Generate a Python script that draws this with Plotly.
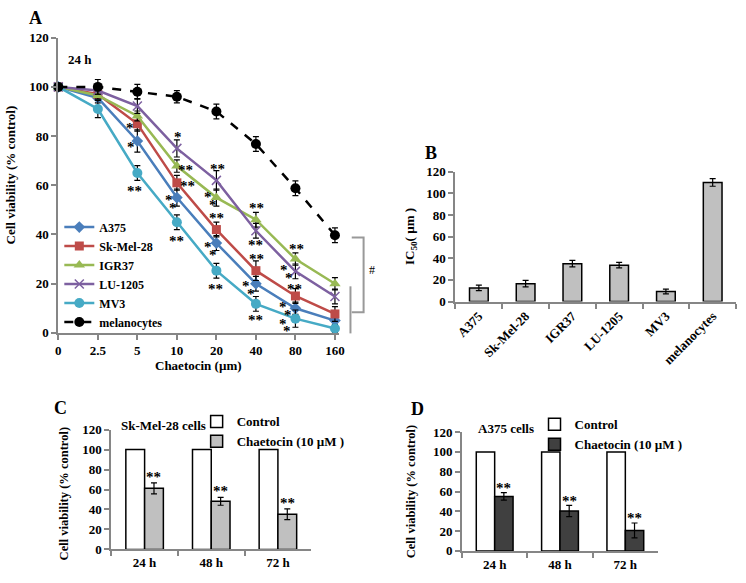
import plotly.graph_objects as go

W, H = 746, 583
def px_x(p):
    return p / W
def px_y(p):
    return 1 - p / H

FONT = "Liberation Serif"
AXC = "#868686"

# ---------------- Panel A data ----------------
doses = ["0", "2.5", "5", "10", "20", "40", "80", "160"]
a375 = [100, 95.5, 78, 55, 36.5, 20, 10, 5]
a375_err = [0, 2, 4.5, 3.5, 3, 3, 2.5, 1.5]
skmel = [100, 97, 85, 61, 42, 25.3, 15, 7.7]
skmel_err = [0, 1.5, 3, 3, 3, 4, 3, 3]
igr37 = [100, 96.5, 88.2, 67.8, 55, 46, 30, 20]
igr37_err = [0, 1.5, 2, 2.5, 3.5, 3, 2.5, 2.5]
lu1205 = [100, 98.5, 92.2, 75, 62, 41.5, 25, 14.8]
lu1205_err = [0, 1.5, 3, 3.5, 4, 3, 3, 3]
mv3 = [100, 91, 65, 45, 25.3, 11.8, 5.8, 1.8]
mv3_err = [0, 3.5, 3, 3, 3, 3, 3.5, 1.5]
melano = [100, 100, 98, 96, 90, 76.8, 58.8, 39.7]
melano_err = [0, 3, 3, 2.5, 3, 3, 3, 3]

# significance marks in panel A: (dose index, value, text)
stars_a = [
    (1.81, 84.7, "*"), (1.83, 76.8, "*"), (3.02, 81, "*"),
    (1.93, 58.8, "**"), (3.23, 67.4, "**"), (3.27, 60.8, "**"), (3.0, 38.7, "**"),
    (4.02, 68, "**"), (4.0, 48, "**"), (3.98, 18.9, "**"), (5.02, 52, "**"),
    (4.98, 37, "**"), (5.02, 31.1, "**"), (5.0, 6.4, "**"), (6.02, 35.2, "**"),
    (5.98, 19.2, "**"),
    (2.85, 53.9, "diag"), (3.85, 55.2, "diag"), (3.85, 34.8, "diag"),
    (4.81, 18.9, "diag"), (5.77, 25.5, "diag"), (5.75, 10.4, "diag"), (5.73, 3.8, "diag"),
]

# ---------------- Panel B data ----------------
lines_b = ["A375", "Sk-Mel-28", "IGR37", "LU-1205", "MV3", "melanocytes"]
ic50 = [12.6, 16.5, 35, 33.6, 9.3, 110]
ic50_err = [2.5, 3, 3, 2.5, 2.2, 3.5]

# ---------------- Panels C / D data ----------------
times = ["24 h", "48 h", "72 h"]
control = [100, 100, 100]
c_chaet = [61.2, 48.2, 35.2]
c_err = [5.5, 4, 5.4]
d_chaet = [55, 40.3, 20.7]
d_err = [3.8, 5.6, 7.5]
sig_cd = ["**", "**", "**"]

fig = go.Figure()

series = [
    ("A375", a375, a375_err, "#4A7EBB", "diamond", 9, "solid"),
    ("Sk-Mel-28", skmel, skmel_err, "#BE4B48", "square", 9, "solid"),
    ("IGR37", igr37, igr37_err, "#98B954", "triangle-up", 10, "solid"),
    ("LU-1205", lu1205, lu1205_err, "#7D60A0", "x-thin", 9, "solid"),
    ("MV3", mv3, mv3_err, "#46AAC5", "circle", 10, "solid"),
    ("melanocytes", melano, melano_err, "black", "circle", 10, "dash"),
]
for name, vals, errs, col, sym, sz, dash in series:
    mk = dict(symbol=sym, size=sz, color=col)
    if sym == "x-thin":
        mk["line"] = dict(color=col, width=1.5)
    fig.add_trace(go.Scatter(
        x=doses, y=vals, name=name, mode="lines+markers",
        line=dict(color=col, width=2.5, dash=dash),
        marker=mk, cliponaxis=False,
        error_y=dict(type="data", array=errs, color="black", thickness=1.2, width=3),
        xaxis="x", yaxis="y", legend="legend",
    ))

fig.add_trace(go.Bar(
    x=lines_b, y=ic50, width=0.4, marker=dict(color="#C0C0C0", line=dict(color="black", width=1.5)),
    error_y=dict(type="data", array=ic50_err, color="black", thickness=1.2, width=3),
    xaxis="x2", yaxis="y2", showlegend=False,
))

fig.add_trace(go.Bar(
    x=times, y=control, name="Control",
    marker=dict(color="white", line=dict(color="black", width=1.5)),
    xaxis="x3", yaxis="y3", legend="legend2",
))
fig.add_trace(go.Bar(
    x=times, y=c_chaet, name="Chaetocin (10 \u00b5M )",
    marker=dict(color="#C0C0C0", line=dict(color="black", width=1.5)),
    error_y=dict(type="data", array=c_err, color="black", thickness=1.2, width=3),
    xaxis="x3", yaxis="y3", legend="legend2",
))
fig.add_trace(go.Bar(
    x=times, y=control, name="Control",
    marker=dict(color="white", line=dict(color="black", width=1.5)),
    xaxis="x4", yaxis="y4", legend="legend3",
))
fig.add_trace(go.Bar(
    x=times, y=d_chaet, name="Chaetocin (10 \u00b5M )",
    marker=dict(color="#404040", line=dict(color="black", width=1.5)),
    error_y=dict(type="data", array=d_err, color="black", thickness=1.2, width=3),
    xaxis="x4", yaxis="y4", legend="legend3",
))

tf = dict(family=FONT, size=13, color="black", weight="bold")
def ax(**kw):
    d = dict(showline=True, linecolor=AXC, linewidth=2, ticks="outside", tickcolor=AXC,
             ticklen=5, tickwidth=1.5, tickfont=tf, showgrid=False, zeroline=False,
             fixedrange=True)
    d.update(kw)
    return d

BARGAP = 0.437
annotations = []

def txt(x, y, text, size=13, xref="paper", yref="paper", angle=0, **kw):
    a = dict(x=x, y=y, text=text, xref=xref, yref=yref, showarrow=False,
             xanchor="center", yanchor="middle",
             font=dict(family=FONT, size=size, color="black", weight="bold"), textangle=angle)
    a.update(kw)
    annotations.append(a)

# panel labels and titles
txt(px_x(33), px_y(11), "A", size=18)
txt(px_x(433), px_y(150), "B", size=18)
txt(px_x(58), px_y(412), "C", size=18)
txt(px_x(420), px_y(413), "D", size=18)
txt(px_x(78), px_y(53.5), "24 h")
txt(px_x(8), px_y(172), "Cell viability (% control)", angle=-90)
txt(px_x(198), px_y(368), "Chaetocin (\u00b5m)")
txt(px_x(413), px_y(236), "IC<sub>50</sub>( \u00b5m )", angle=-90)
txt(px_x(62), px_y(500), "Cell viability (% control)", angle=-90, size=12.5)
txt(px_x(413), px_y(498), "Cell viability (% control)", angle=-90, size=12.5)
txt(px_x(162), px_y(430), "Sk-Mel-28 cells")
txt(px_x(509), px_y(433), "A375 cells")
annotations.append(dict(x=px_x(373), y=px_y(270), text="#", xref="paper", yref="paper",
                        xanchor="center", yanchor="middle",
                        showarrow=False, font=dict(family=FONT, size=12, color="black")))

# stars panel A
for xi, yv, t in stars_a:
    if t == "diag":
        txt(xi, yv, "*", xref="x", yref="y", size=15, xshift=-2.2, yshift=0)
        txt(xi, yv, "*", xref="x", yref="y", size=15, xshift=2.2, yshift=-7.5)
    else:
        txt(xi, yv, t, xref="x", yref="y", size=15, yshift=-3)

# stars panels C / D
off = (1 - BARGAP) / 4
for i, t in enumerate(sig_cd):
    txt(i + off, c_chaet[i] + c_err[i] + 9, t, xref="x3", yref="y3", size=15, yshift=-3)
    txt(i + off, d_chaet[i] + d_err[i] + 8, t, xref="x4", yref="y4", size=15, yshift=-3)

shapes = [
    dict(type="path", xref="paper", yref="paper",
         path=f"M {px_x(353)},{px_y(236.7)} L {px_x(365)},{px_y(236.7)} L {px_x(365)},{px_y(313.3)} L {px_x(353)},{px_y(313.3)}",
         line=dict(color="#999999", width=2)),
    dict(type="line", xref="paper", yref="paper", x0=px_x(351.7), x1=px_x(351.7),
         y0=px_y(286.7), y1=px_y(335), line=dict(color="#999999", width=2)),
]

lf = dict(family=FONT, size=12, color="black", weight="bold")
lf13 = dict(family=FONT, size=13, color="black", weight="bold")

fig.update_layout(
    width=W, height=H, margin=dict(l=0, r=0, t=0, b=0),
    paper_bgcolor="white", plot_bgcolor="white",
    barmode="group", bargap=BARGAP, bargroupgap=0,
    xaxis=ax(domain=[px_x(56), px_x(340)], range=[0, 7.1], type="category", anchor="y"),
    yaxis=ax(domain=[px_y(334.5), px_y(31.5)], range=[0, 120], dtick=20, anchor="x"),
    xaxis2=ax(domain=[px_x(458), px_x(742)], range=[-0.5, 5.5], type="category", anchor="y2",
              tickangle=-45, tickson="boundaries"),
    yaxis2=ax(domain=[px_y(302.3), px_y(169)], range=[0, 120], dtick=20, anchor="x2"),
    xaxis3=ax(domain=[px_x(109.6), px_x(312)], range=[-0.5, 2.5], type="category", anchor="y3",
              tickson="boundaries"),
    yaxis3=ax(domain=[px_y(556.7), px_y(433.8)], range=[0, 120], dtick=20, anchor="x3"),
    xaxis4=ax(domain=[px_x(464.6), px_x(663)], range=[-0.5, 2.5], type="category", anchor="y4",
              tickson="boundaries"),
    yaxis4=ax(domain=[px_y(558.3), px_y(436.3)], range=[0, 120], dtick=20, anchor="x4"),
    legend=dict(x=px_x(57), y=px_y(211), xanchor="left", yanchor="top", font=lf,
                bgcolor="rgba(0,0,0,0)", tracegroupgap=0),
    legend2=dict(x=px_x(196), y=px_y(410), xanchor="left", yanchor="top", font=lf13,
                 bgcolor="rgba(0,0,0,0)"),
    legend3=dict(x=px_x(538), y=px_y(413), xanchor="left", yanchor="top", font=lf13,
                 bgcolor="rgba(0,0,0,0)"),
    annotations=annotations, shapes=shapes, showlegend=True,
)

fig.write_html("out.html", post_script="document.body.style.margin='0px';",
               config={"displayModeBar": False})
